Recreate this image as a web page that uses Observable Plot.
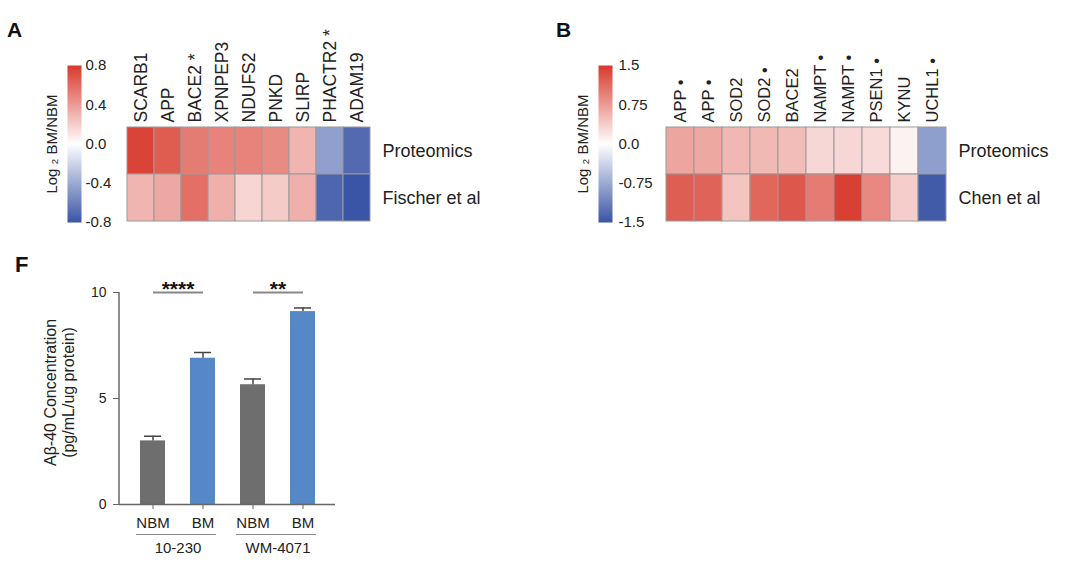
<!DOCTYPE html>
<html><head><meta charset="utf-8">
<script src="https://cdn.jsdelivr.net/npm/d3@7"></script>
<script src="https://cdn.jsdelivr.net/npm/@observablehq/plot@0.6"></script>
<style>
body{margin:0;background:#fff;}
#fig{position:relative;width:1080px;height:567px;overflow:hidden;font-family:"Liberation Sans",Arial,sans-serif;background:#fff;}
.lbl{position:absolute;font-weight:bold;line-height:1;color:#111;}
#fig svg{position:absolute;overflow:visible;}
</style></head><body>
<div id="fig">
  <div class="lbl" style="left:7px;top:19px;font-size:21px">A</div>
  <div class="lbl" style="left:556px;top:19px;font-size:21px">B</div>
  <div class="lbl" style="left:15px;top:254px;font-size:22px">F</div>
</div>
<script>
// ---------- Data ----------
const genesA = ["SCARB1","APP","BACE2 *","XPNPEP3","NDUFS2","PNKD","SLIRP","PHACTR2 *","ADAM19"];
const rowsA = ["Proteomics","Fischer et al"];
const proteomicsA = [0.76, 0.66, 0.53, 0.50, 0.50, 0.47, 0.30, -0.45, -0.70];
const fischerA    = [0.30, 0.35, 0.58, 0.32, 0.17, 0.21, 0.32, -0.72, -0.80];
const colorTicksA = [-0.8, -0.4, 0, 0.4, 0.8];

const genesB = ["APP •","APP •","SOD2","SOD2 •","BACE2","NAMPT •","NAMPT •","PSEN1 •","KYNU","UCHL1 •"];
const rowsB = ["Proteomics","Chen et al"];
const proteomicsB = [0.68, 0.66, 0.54, 0.53, 0.50, 0.30, 0.30, 0.28, 0.10, -0.85];
const chenB       = [1.22, 1.18, 0.45, 1.15, 1.27, 1.00, 1.45, 0.90, 0.37, -1.45];
const colorTicksB = [-1.5, -0.75, 0, 0.75, 1.5];

const fConditions = ["NBM","BM","NBM","BM"];
const fLines = ["10-230","10-230","WM-4071","WM-4071"];
const fValues = [3.0, 6.9, 5.65, 9.1];
const fErrors = [0.22, 0.27, 0.27, 0.17];
const fSignif = [{from: 0, to: 1, stars: "****"}, {from: 2, to: 3, stars: "**"}];
const fYTicks = [0, 5, 10];
const fYTitle = "Aβ-40 Concentration\n(pg/mL/ug protein)";
const legendTitle = "Log ₂ BM/NBM";

// ---------- Styles ----------
const FONT = "'Liberation Sans', Arial, sans-serif";
const RED = "#d8392c", BLUE = "#3a55a6", WHITE = "#ffffff";
const BAR_GRAY = "#6e6e6e", BAR_BLUE = "#5688c7";
const fig = document.getElementById("fig");
function place(node, left, top) { node.style.left = left + "px"; node.style.top = top + "px"; fig.appendChild(node); }
const colorScale = (max) => ({type: "linear", domain: [-max, 0, max], range: [BLUE, WHITE, RED], interpolate: "rgb"});

function heatmap({genes, rows, series, max, fontSize, marginRight}) {
  const data = [];
  rows.forEach((r, j) => series[j].forEach((v, i) => data.push({gene: i, row: r, value: v})));
  return Plot.plot({
    width: 540, height: 240, marginLeft: 125, marginRight, marginTop: 127, marginBottom: 19,
    style: {fontFamily: FONT, color: "#222", background: "transparent"},
    x: {type: "band", domain: genes.map((_, i) => i), padding: 0},
    y: {type: "band", domain: rows, padding: 0},
    color: colorScale(max),
    marks: [
      Plot.cell(data, {x: "gene", y: "row", fill: "value", stroke: "#9a9a9a", strokeWidth: 1, inset: 0}),
      Plot.axisX({anchor: "top", tickRotate: -90, tickSize: 0, tickPadding: 5, fontSize, tickFormat: i => genes[i], label: null}),
      Plot.axisY({anchor: "right", tickSize: 0, tickPadding: 11, fontSize: 18, label: null})
    ]
  });
}

function colorbar({max, ticks, fmt, marginLeft, tickPadding}) {
  return Plot.plot({
    width: 130, height: 240, marginLeft, marginRight: 130 - marginLeft - 14, marginTop: 65, marginBottom: 18,
    style: {fontFamily: FONT, color: "#222", background: "transparent"},
    x: {domain: [0, 1], axis: null},
    y: {domain: [-max, max]},
    color: colorScale(max),
    marks: [
      Plot.raster({x1: 0, x2: 1, y1: -max, y2: max, width: 2, height: 200, fill: (x, y) => y}),
      Plot.axisY({anchor: "right", ticks, tickFormat: fmt, tickSize: 0, tickPadding, fontSize: 15, label: null}),
      Plot.text([legendTitle], {text: d => d, frameAnchor: "left", textAnchor: "middle", dx: -15, rotate: -90, fontSize: 15, fill: "#222"})
    ]
  });
}

// ---------- Panel A ----------
place(colorbar({max: 0.8, ticks: colorTicksA, fmt: d => d.toFixed(1), marginLeft: 67, tickPadding: 4}), 0, 0);
place(heatmap({genes: genesA, rows: rowsA, series: [proteomicsA, fischerA], max: 0.8, fontSize: 17.5, marginRight: 169}), 0, 0);

// ---------- Panel B ----------
place(colorbar({max: 1.5, ticks: colorTicksB, fmt: d => d === 0 ? "0.0" : String(d), marginLeft: 58, tickPadding: 6}), 540, 0);
place(heatmap({genes: genesB, rows: rowsB, series: [proteomicsB, chenB], max: 1.5, fontSize: 16.5, marginRight: 133}), 540, 0);

// ---------- Panel F ----------
const fKeys = fConditions.map((c, i) => fLines[i] + " " + c);
const fData = fKeys.map((k, i) => ({key: k, cond: fConditions[i], line: fLines[i], value: fValues[i], err: fErrors[i]}));
const sigData = fSignif.map(s => ({from: fKeys[s.from], to: fKeys[s.to], stars: s.stars}));
const groupNames = Array.from(new Set(fLines));
const groupData = groupNames.map(g => {
  const ks = fKeys.filter((k, i) => fLines[i] === g);
  return {name: g, from: ks[0], to: ks[ks.length - 1]};
});
function yAxisLine(index, scales, values, dims) {
  return d3.create("svg:line")
    .attr("x1", dims.marginLeft).attr("x2", dims.marginLeft)
    .attr("y1", scales.y(fYTicks[fYTicks.length - 1])).attr("y2", scales.y(0))
    .attr("stroke", "#666").attr("stroke-width", 1.5).node();
}
const plotF = Plot.plot({
  width: 400, height: 317, marginLeft: 119, marginRight: 65, marginTop: 42, marginBottom: 63,
  style: {fontFamily: FONT, color: "#222", background: "transparent"},
  x: {type: "band", domain: fKeys, paddingInner: 0.5, paddingOuter: 0.4},
  y: {domain: [0, 10]},
  color: {domain: ["NBM", "BM"], range: [BAR_GRAY, BAR_BLUE]},
  marks: [
    Plot.barY(fData, {x: "key", y: "value", fill: "cond"}),
    Plot.ruleX(fData, {x: "key", y1: "value", y2: d => d.value + d.err, stroke: "#444", strokeWidth: 1.5}),
    Plot.tickY(fData, {x: "key", y: d => d.value + d.err, stroke: "#444", strokeWidth: 1.5, insetLeft: 4, insetRight: 4}),
    Plot.ruleY([0], {stroke: "#666", strokeWidth: 1.5}),
    yAxisLine,
    Plot.axisY({ticks: fYTicks, tickSize: 6, tickPadding: 7, fontSize: 14, stroke: "#666", fill: "#222", label: null}),
    Plot.axisX({tickSize: 5, tickPadding: 8, fontSize: 15, stroke: "#666", fill: "#222", label: null,
      tickFormat: k => fData.find(d => d.key === k).cond}),
    Plot.link(sigData, {x1: "from", x2: "to", y1: 10, y2: 10, stroke: "#888", strokeWidth: 2}),
    Plot.text(sigData, {x: "from", y: 10, dx: 25, dy: -3, text: "stars", fontSize: 21, fontWeight: "bold", fill: "#111"}),
    Plot.ruleY(groupData, {x1: "from", x2: "to", y: 0, dy: 30, insetLeft: -4, insetRight: -1, stroke: "#888", strokeWidth: 1.2}),
    Plot.text(groupData, {x: "from", y: 0, dx: 25, dy: 44, text: "name", fontSize: 15, fill: "#222"}),
    Plot.text([fYTitle], {text: d => d, frameAnchor: "left", textAnchor: "middle", rotate: -90, dx: -60, dy: -6, fontSize: 16, lineHeight: 1.1, fill: "#222"})
  ]
});
place(plotF, 0, 250);
</script>
</body></html>
